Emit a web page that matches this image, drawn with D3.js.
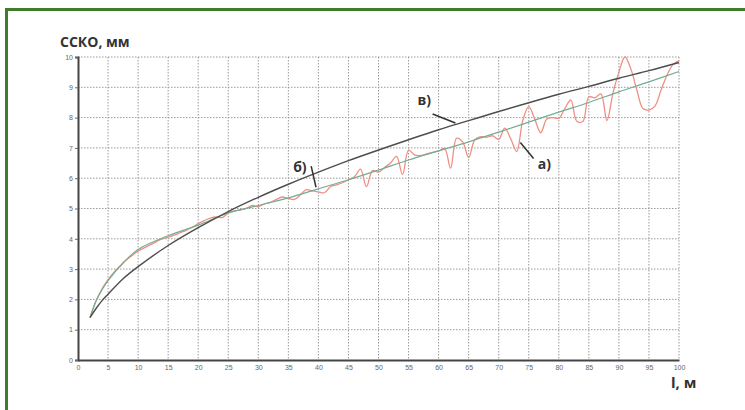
<!DOCTYPE html>
<html>
<head>
<meta charset="utf-8">
<script src="https://cdn.jsdelivr.net/npm/d3@7"></script>
<style>
  body { margin: 0; background: #fff; }
  svg { display: block; }
  .tick text { font-family: "Liberation Sans", Arial, sans-serif; font-size: 7px; fill: #666; }
  .lbl { font-family: "Open Sans", "DejaVu Sans", sans-serif; font-weight: 700; fill: #333; }
</style>
</head>
<body>
<div id="chart-area"></div>
<script>
const W = 745, H = 410;
const margin = {top:57, right:66, bottom:50, left:78};
const width = W - margin.left - margin.right;
const height = H - margin.top - margin.bottom;

// curve в) (dark)
const vX = [2, 3, 4, 5, 7.5, 10, 15, 20, 25, 30, 35, 40, 45, 50, 55, 60, 65, 70, 75, 80, 85, 90, 95, 100];
const vY = [1.4, 1.7, 1.96, 2.17, 2.68, 3.08, 3.78, 4.37, 4.9, 5.37, 5.8, 6.2, 6.58, 6.93, 7.27, 7.6, 7.9, 8.2, 8.49, 8.77, 9.03, 9.3, 9.55, 9.82];

// curve б) (green)
const bX = [2, 3, 4, 5, 7.5, 10, 15, 20, 25, 30, 35, 40, 45, 50, 55, 60, 65, 70, 75, 80, 85, 90, 95, 100];
const bY = [1.4, 1.95, 2.32, 2.62, 3.2, 3.65, 4.1, 4.45, 4.85, 5.1, 5.35, 5.65, 5.95, 6.27, 6.6, 6.9, 7.2, 7.52, 7.85, 8.18, 8.5, 8.85, 9.18, 9.52];

// curve а) (red, measured)
const aX = d3.range(2, 101);
const aY = [1.4, 1.95, 2.35, 2.65, 2.9, 3.1, 3.3, 3.45, 3.6, 3.7, 3.8, 3.9, 4.0, 4.05, 4.12, 4.2, 4.28, 4.38, 4.5,
            4.6, 4.68, 4.72, 4.7, 4.85, 4.92, 4.95, 5.0, 5.1, 5.06, 5.15, 5.2, 5.3, 5.38, 5.33, 5.3, 5.45, 5.62, 5.58,
            5.55, 5.52, 5.72, 5.78, 5.85, 5.95, 6.05, 6.3, 5.72, 6.25, 6.2, 6.35, 6.5, 6.72, 6.12, 6.93, 6.77, 6.75,
            6.8, 6.85, 6.9, 6.98, 6.33, 7.32, 7.2, 6.68, 7.26, 7.37, 7.35, 7.4, 7.28, 7.65, 7.3, 6.88, 7.9, 8.36,
            7.95, 7.5, 7.95, 8.0, 7.98, 8.3, 8.58, 7.88, 7.87, 8.69, 8.65, 8.78, 7.9, 8.8, 9.5, 10.0, 9.6, 8.9,
            8.3, 8.25, 8.38, 8.9, 9.4, 9.75, 9.88];

const xTicks = d3.range(0, 101, 5);
const yTicks = d3.range(0, 11, 1);

const svg = d3.select("#chart-area").append("svg")
    .attr("width", W)
    .attr("height", H);

// green frame
svg.append("rect")
   .attr("x", 6.5).attr("y", 9.5)
   .attr("width", W + 20).attr("height", H + 20)
   .attr("fill", "none")
   .attr("stroke", "#3f7d2c")
   .attr("stroke-width", 3);

const g = svg.append("g")
    .attr("transform", "translate(" + margin.left + "," + margin.top + ")");

const xScale = d3.scaleLinear().domain([0, 100]).range([0, width]);
const yScale = d3.scaleLinear().domain([0, 10]).range([height, 0]);

// grid
g.append("g").selectAll("line.gx")
 .data(xTicks.slice(1))
 .enter().append("line")
 .attr("x1", d => xScale(d)).attr("x2", d => xScale(d))
 .attr("y1", 0).attr("y2", height)
 .attr("stroke", "#9a9a9a").attr("stroke-width", 1)
 .attr("stroke-dasharray", "1.5,1.5");

g.append("g").selectAll("line.gy")
 .data(yTicks.slice(1))
 .enter().append("line")
 .attr("x1", 0).attr("x2", width)
 .attr("y1", d => yScale(d)).attr("y2", d => yScale(d))
 .attr("stroke", "#9a9a9a").attr("stroke-width", 1)
 .attr("stroke-dasharray", "1.5,1.5");

// axes
const xAxis = d3.axisBottom(xScale).tickValues(xTicks).tickSize(0).tickPadding(5);
const yAxis = d3.axisLeft(yScale).tickValues(yTicks).tickSize(3).tickPadding(2);

g.append("g")
 .attr("class", "xaxis")
 .attr("transform", `translate(0,${height})`)
 .call(xAxis)
 .call(s => s.select(".domain").attr("stroke", "#444").attr("stroke-width", 2));

g.append("g")
 .attr("class", "yaxis")
 .call(yAxis)
 .call(s => s.select(".domain").attr("stroke", "#444").attr("stroke-width", 2))
 .call(s => s.selectAll(".tick line").attr("stroke", "#666"));

// curves
const line = d3.line()
    .x(d => xScale(d[0]))
    .y(d => yScale(d[1]));

g.append("path")
 .datum(d3.zip(aX, aY))
 .attr("fill", "none")
 .attr("stroke", "#ef8f84")
 .attr("stroke-width", 1.3)
 .attr("d", line.curve(d3.curveCatmullRom.alpha(0.5)));

g.append("path")
 .datum(d3.zip(bX, bY))
 .attr("fill", "none")
 .attr("stroke", "#72ad93")
 .attr("stroke-width", 1.2)
 .attr("d", line.curve(d3.curveCatmullRom.alpha(0.5)));

g.append("path")
 .datum(d3.zip(vX, vY))
 .attr("fill", "none")
 .attr("stroke", "#4d4d4d")
 .attr("stroke-width", 1.4)
 .attr("d", line.curve(d3.curveCatmullRom.alpha(0.5)));

// annotations: [label, text x, text y, line from, line to] in data units
const notes = [
  {t: "в)", x: 56.5, y: 8.42, x1: 59.0, y1: 8.12, x2: 62.8, y2: 7.82},
  {t: "б)", x: 35.8, y: 6.2, x1: 38.8, y1: 6.4, x2: 39.6, y2: 5.7},
  {t: "а)", x: 76.5, y: 6.3, x1: 75.8, y1: 6.65, x2: 73.6, y2: 7.18}
];

notes.forEach(n => {
  g.append("line")
   .attr("x1", xScale(n.x1)).attr("y1", yScale(n.y1))
   .attr("x2", xScale(n.x2)).attr("y2", yScale(n.y2))
   .attr("stroke", "#333").attr("stroke-width", 1.5);
  g.append("text")
   .attr("class", "lbl")
   .attr("x", xScale(n.x)).attr("y", yScale(n.y))
   .attr("font-size", 14)
   .text(n.t);
});

svg.append("text")
   .attr("class", "lbl")
   .attr("x", 60).attr("y", 47)
   .attr("font-size", 14)
   .text("ССКО, мм");

svg.append("text")
   .attr("class", "lbl")
   .attr("x", 671).attr("y", 388)
   .attr("font-size", 15)
   .text("l, м");
</script>
</body>
</html>
